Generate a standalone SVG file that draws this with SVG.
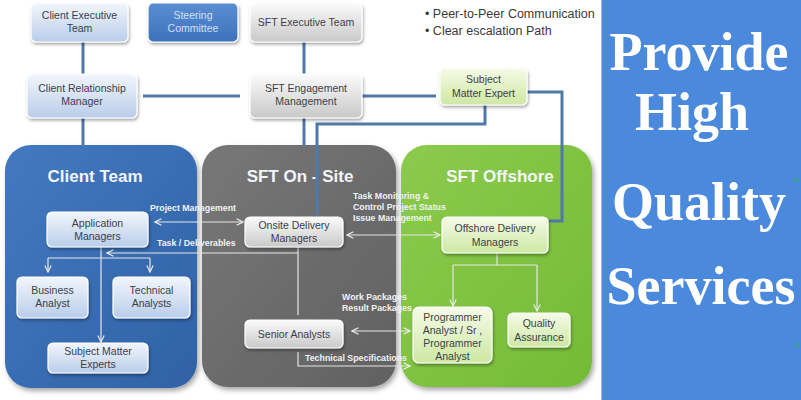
<svg xmlns="http://www.w3.org/2000/svg" width="801" height="400" viewBox="0 0 801 400">
<defs>
<linearGradient id="gBlue" x1="0" y1="0" x2="0" y2="1"><stop offset="0" stop-color="#f2f6fc"/><stop offset="1" stop-color="#b9cdea"/></linearGradient>
<linearGradient id="gGrey" x1="0" y1="0" x2="0" y2="1"><stop offset="0" stop-color="#fbfbfb"/><stop offset="1" stop-color="#c9c9c9"/></linearGradient>
<linearGradient id="gGreen" x1="0" y1="0" x2="0" y2="1"><stop offset="0" stop-color="#f6fbe8"/><stop offset="1" stop-color="#cde8a3"/></linearGradient>
<linearGradient id="gSteer" x1="0" y1="0" x2="0" y2="1"><stop offset="0" stop-color="#5a8ed2"/><stop offset="1" stop-color="#3d72bb"/></linearGradient>
<linearGradient id="pBlue" x1="0" y1="0" x2="1" y2="1"><stop offset="0" stop-color="#4379c0"/><stop offset="1" stop-color="#2f62a6"/></linearGradient>
<linearGradient id="pGrey" x1="0" y1="0" x2="1" y2="1"><stop offset="0" stop-color="#777777"/><stop offset="1" stop-color="#616161"/></linearGradient>
<linearGradient id="pGreen" x1="0" y1="0" x2="1" y2="1"><stop offset="0" stop-color="#8cca4d"/><stop offset="1" stop-color="#74bb36"/></linearGradient>
<filter id="sh" x="-20%" y="-20%" width="150%" height="150%"><feDropShadow dx="2" dy="3" stdDeviation="2.5" flood-color="#000" flood-opacity="0.35"/></filter>
<filter id="shs" x="-20%" y="-20%" width="150%" height="150%"><feDropShadow dx="1" dy="2" stdDeviation="1.5" flood-color="#000" flood-opacity="0.35"/></filter>
<marker id="ah" viewBox="0 0 10 10" refX="9" refY="5" markerWidth="8" markerHeight="8" orient="auto-start-reverse" markerUnits="userSpaceOnUse"><path d="M1,1 L9,5 L1,9" fill="none" stroke="#eeeeee" stroke-width="1.4"/></marker>
</defs>
<style>
.nb{fill:url(#gBlue);stroke:#ffffff;stroke-width:1.2;filter:url(#shs)}
.ng{fill:url(#gGrey);stroke:#ffffff;stroke-width:1.2;filter:url(#shs)}
.ngr{fill:url(#gGreen);stroke:#ffffff;stroke-width:1.2;filter:url(#shs)}
.t{font-family:"Liberation Sans",Arial,sans-serif;font-size:10.5px;fill:#3b3f4a;text-anchor:middle}
.pt{font-family:"Liberation Sans",Arial,sans-serif;font-size:17px;font-weight:bold;fill:#f2f6fb;text-anchor:middle}
.lbl{font-family:"Liberation Sans",Arial,sans-serif;font-size:8.8px;font-weight:bold;fill:#eef2f6}
.thick{fill:none;stroke:#5078a9;stroke-width:3}
.thin{fill:none;stroke:#e6e6e6;stroke-width:1.2}
.big{font-family:"Liberation Serif","DejaVu Serif",serif;font-size:54px;font-weight:bold;fill:#ffffff;text-anchor:middle}
.bul{font-family:"Liberation Sans",Arial,sans-serif;font-size:12.5px;fill:#3a3a3a}
</style>
<rect x="0" y="0" width="801" height="400" fill="#ffffff"/>

<text class="bul" x="425" y="18">• Peer-to-Peer  Communication</text>
<text class="bul" x="425" y="35">• Clear escalation Path</text>

<!-- panels -->
<g id="panel-client"><rect x="5" y="145" width="192" height="243" rx="26" fill="url(#pBlue)" filter="url(#sh)"/><text class="pt" x="95" y="182">Client Team</text></g>
<g id="panel-onsite"><rect x="202" y="145" width="194" height="242" rx="26" fill="url(#pGrey)" filter="url(#sh)"/><text class="pt" x="300" y="182">SFT On - Site</text></g>
<g id="panel-offshore"><rect x="401" y="145" width="191" height="242" rx="26" fill="url(#pGreen)" filter="url(#sh)"/><text class="pt" x="500" y="182">SFT Offshore</text></g>

<!-- connectors -->
<g id="connectors">
<path class="thick" d="M83,42 V74"/>
<path class="thick" d="M83,118 V147"/>
<path class="thick" d="M143,96 H240"/>
<path class="thick" d="M304,42 V74"/>
<path class="thick" d="M304,118 V146"/>
<path class="thick" d="M358,96 H436"/>
<path class="thick" d="M485,105 V124 H317 V215"/>
<path class="thick" d="M527,92 H562 V221 H549"/>

<path class="thin" d="M155,222 H243" marker-start="url(#ah)" marker-end="url(#ah)"/>
<path class="thin" d="M298,247 V315"/>
<path class="thin" d="M298,253 H107" marker-end="url(#ah)"/>
<path class="thin" d="M101,247 V342" marker-end="url(#ah)"/>
<path class="thin" d="M48,258 H150"/>
<path class="thin" d="M48,258 V272" marker-end="url(#ah)"/>
<path class="thin" d="M150,258 V272" marker-end="url(#ah)"/>
<path class="thin" d="M347,235 H440" marker-start="url(#ah)" marker-end="url(#ah)"/>
<path class="thin" d="M352,331 H410" marker-start="url(#ah)" marker-end="url(#ah)"/>
<path class="thin" d="M298,352 V366 H410" marker-end="url(#ah)"/>
<path class="thin" d="M497,253 V265"/>
<path class="thin" d="M453,265 H537"/>
<path class="thin" d="M453,265 V306" marker-end="url(#ah)"/>
<path class="thin" d="M537,265 V311" marker-end="url(#ah)"/>

<text class="lbl" x="150" y="211">Project Management</text>
<text class="lbl" x="157" y="246">Task / Deliverables</text>
<text class="lbl" x="353" y="199">Task Monitoring &amp;</text>
<text class="lbl" x="353" y="210">Control Project Status</text>
<text class="lbl" x="353" y="221">Issue Management</text>
<text class="lbl" x="342" y="300">Work Packages</text>
<text class="lbl" x="342" y="311">Result Packages</text>
<text class="lbl" x="305" y="361">Technical Specifications</text>
</g>

<!-- top nodes -->
<g id="client-executive-team"><rect class="nb" x="31" y="3" width="97" height="39" rx="5"/><text class="t" x="79.5" y="19">Client Executive</text><text class="t" x="79.5" y="32">Team</text></g>
<g id="steering-committee"><rect x="148" y="3" width="90" height="39" rx="5" fill="url(#gSteer)" stroke="#ffffff" stroke-width="1.2" filter="url(#shs)"/><text class="t" x="193" y="19" style="fill:#cfe0f6">Steering</text><text class="t" x="193" y="32" style="fill:#cfe0f6">Committee</text></g>
<g id="sft-executive-team"><rect class="ng" x="250" y="3" width="112" height="39" rx="5"/><text class="t" x="306" y="26">SFT Executive Team</text></g>
<g id="client-relationship-manager"><rect class="nb" x="27" y="74" width="110" height="44" rx="5"/><text class="t" x="82" y="92">Client Relationship</text><text class="t" x="82" y="105">Manager</text></g>
<g id="sft-engagement-management"><rect class="ng" x="250" y="74" width="112" height="44" rx="5"/><text class="t" x="306" y="92">SFT Engagement</text><text class="t" x="306" y="105">Management</text></g>
<g id="subject-matter-expert"><rect class="ngr" x="440" y="68" width="87" height="37" rx="5"/><text class="t" x="483.5" y="83">Subject</text><text class="t" x="483.5" y="97">Matter Expert</text></g>

<!-- client team nodes -->
<g id="application-managers"><rect class="nb" x="47" y="212" width="101" height="35" rx="5"/><text class="t" x="97.5" y="227">Application</text><text class="t" x="97.5" y="240">Managers</text></g>
<g id="business-analyst"><rect class="nb" x="17" y="277" width="71" height="41" rx="5"/><text class="t" x="52.5" y="294">Business</text><text class="t" x="52.5" y="307">Analyst</text></g>
<g id="technical-analysts"><rect class="nb" x="113" y="277" width="77" height="41" rx="5"/><text class="t" x="151.5" y="294">Technical</text><text class="t" x="151.5" y="307">Analysts</text></g>
<g id="subject-matter-experts"><rect class="nb" x="48" y="343" width="100" height="30" rx="5"/><text class="t" x="98" y="355">Subject Matter</text><text class="t" x="98" y="368">Experts</text></g>

<!-- onsite nodes -->
<g id="onsite-delivery-managers"><rect class="ng" x="245" y="217" width="98" height="30" rx="5"/><text class="t" x="294" y="229">Onsite Delivery</text><text class="t" x="294" y="242">Managers</text></g>
<g id="senior-analysts"><rect class="ng" x="245" y="320" width="98" height="28" rx="5"/><text class="t" x="294" y="338">Senior Analysts</text></g>

<!-- offshore nodes -->
<g id="offshore-delivery-managers"><rect class="ngr" x="442" y="217" width="106" height="36" rx="5"/><text class="t" x="495" y="232">Offshore Delivery</text><text class="t" x="495" y="246">Managers</text></g>
<g id="programmer-analyst"><rect class="ngr" x="413" y="307" width="79" height="56" rx="6"/><text class="t" x="452.5" y="321">Programmer</text><text class="t" x="452.5" y="334">Analyst / Sr ,</text><text class="t" x="452.5" y="347">Programmer</text><text class="t" x="452.5" y="360">Analyst</text></g>
<g id="quality-assurance"><rect class="ngr" x="508" y="313" width="62" height="34" rx="5"/><text class="t" x="539" y="327">Quality</text><text class="t" x="539" y="341">Assurance</text></g>

<!-- right banner -->
<g id="banner">
<rect x="602" y="0" width="199" height="400" fill="#4a89dc"/>
<line x1="601.5" y1="0" x2="601.5" y2="400" stroke="#b5b5b5" stroke-width="1"/>
<text class="big" x="699" y="70">Provide</text>
<text class="big" x="692" y="130">High</text>
<text class="big" x="699" y="220">Quality</text>
<text class="big" x="701" y="304">Services</text>
<circle cx="796" cy="180" r="1.8" fill="#2fb36b"/>
<circle cx="796" cy="345" r="1.8" fill="#2fb36b"/>
</g>
</svg>
